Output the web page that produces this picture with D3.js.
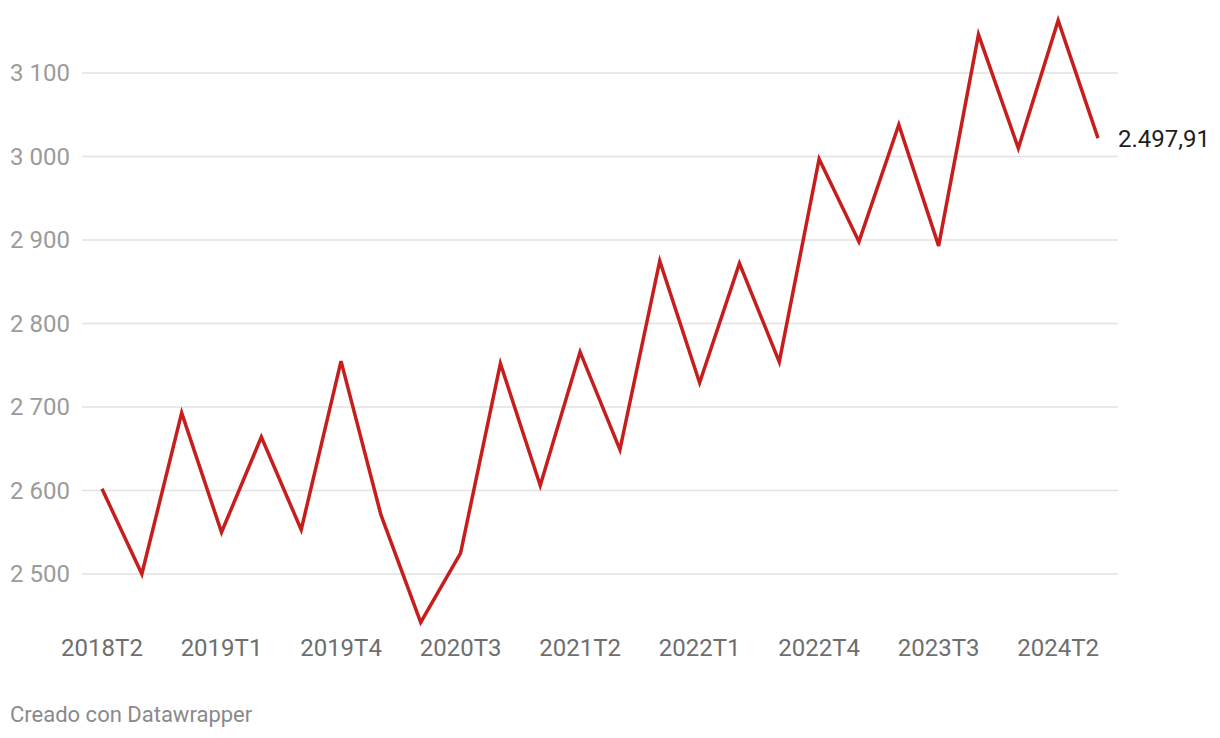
<!DOCTYPE html>
<html>
<head>
<meta charset="utf-8">
<script src="https://cdn.jsdelivr.net/npm/d3@7"></script>
<style>
  body { margin: 0; background: #fff; }
  svg { display: block; font-family: Roboto, sans-serif; }
</style>
</head>
<body>
<svg id="chart" width="1220" height="738"></svg>
<script>
  // Data
  var quarters = ['2018T2', '2018T3', '2018T4',
    '2019T1', '2019T2', '2019T3', '2019T4',
    '2020T1', '2020T2', '2020T3', '2020T4',
    '2021T1', '2021T2', '2021T3', '2021T4',
    '2022T1', '2022T2', '2022T3', '2022T4',
    '2023T1', '2023T2', '2023T3', '2023T4',
    '2024T1', '2024T2', '2024T3']
  var values = [2602, 2500, 2693,
    2550, 2664, 2553, 2755,
    2571, 2442, 2525, 2752,
    2606, 2766, 2649, 2875,
    2729, 2872, 2754, 2997,
    2898, 3038, 2893, 3146,
    3010, 3163, 3022]
  var yTicks = [2500, 2600, 2700, 2800, 2900, 3000, 3100]
  var xTickLabels = ['2018T2', '2019T1', '2019T4', '2020T3', '2021T2', '2022T1', '2022T4', '2023T3', '2024T2']
  var endLabel = '2.497,91'

  var LINE_COLOR = '#c71e1d'

  var svg = d3.select('#chart')

  var x = d3.scalePoint()
    .domain(quarters)
    .range([102, 1098])

  var y = d3.scaleLinear()
    .domain([2500, 3100])
    .range([574, 73])

  var fmt = d3.formatLocale({ decimal: ',', thousands: ' ', grouping: [3], currency: ['', ''] }).format(',d')

  // grid + y labels
  var yAxis = svg.append('g').classed('y-axis', true)
  yAxis.selectAll('line')
    .data(yTicks)
    .enter().append('line')
    .attr('x1', 82)
    .attr('x2', 1118)
    .attr('y1', function (d) { return y(d) })
    .attr('y2', function (d) { return y(d) })
    .attr('stroke', '#e2e2e2')
    .attr('stroke-width', 1.5)
  yAxis.selectAll('text')
    .data(yTicks)
    .enter().append('text')
    .attr('x', 70)
    .attr('y', function (d) { return y(d) })
    .attr('dy', '0.35em')
    .attr('text-anchor', 'end')
    .attr('font-size', 24)
    .attr('fill', '#9b9b9b')
    .text(function (d) { return fmt(d) })

  // x labels
  svg.append('g').classed('x-axis', true)
    .selectAll('text')
    .data(xTickLabels)
    .enter().append('text')
    .attr('x', function (d) { return x(d) })
    .attr('y', 656)
    .attr('text-anchor', 'middle')
    .attr('font-size', 24)
    .attr('fill', '#6e6e6e')
    .text(function (d) { return d })

  // line
  var line = d3.line()
    .x(function (d, i) { return x(quarters[i]) })
    .y(function (d) { return y(d) })

  svg.append('path')
    .datum(values)
    .attr('d', line)
    .attr('fill', 'none')
    .attr('stroke', LINE_COLOR)
    .attr('stroke-width', 3.5)
    .attr('stroke-linejoin', 'miter')
    .attr('stroke-linecap', 'butt')

  // end label
  var last = values.length - 1
  svg.append('text')
    .attr('x', x(quarters[last]) + 20)
    .attr('y', y(values[last]))
    .attr('dy', '0.35em')
    .attr('font-size', 24)
    .attr('fill', '#1d1d1d')
    .text(endLabel)

  // footer
  svg.append('text')
    .attr('x', 10)
    .attr('y', 722)
    .attr('font-size', 22)
    .attr('fill', '#8a8a8a')
    .text('Creado con Datawrapper')
</script>
</body>
</html>
